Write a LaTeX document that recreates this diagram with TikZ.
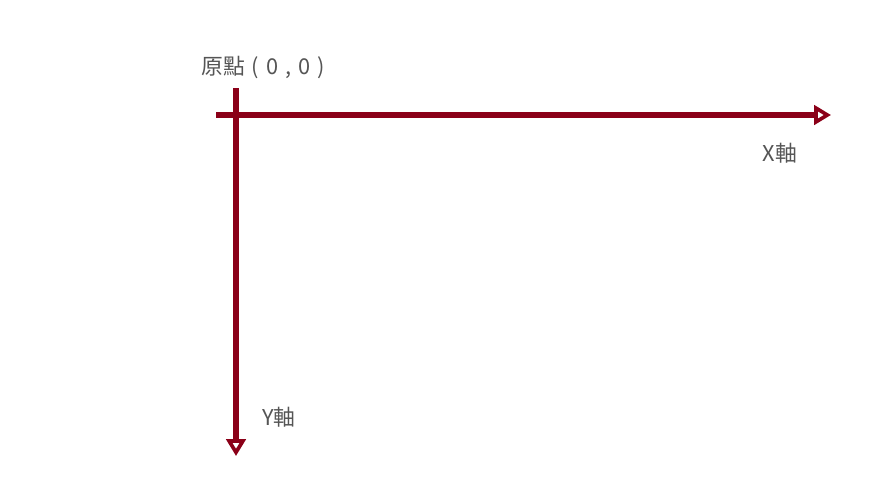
\documentclass[tikz,border=0pt]{standalone}
\usepackage{fontspec}
\setmainfont{Noto Sans CJK TC}
\usetikzlibrary{arrows.meta}
\definecolor{axisred}{RGB}{139,0,24}
\definecolor{labelgray}{RGB}{85,85,85}
\newcommand{\gap}{\hspace{0.32em}}
\tikzset{
  axis/.style={axisred,line width=3.6pt,
    -{Triangle[open,length=0.42cm,width=0.48cm,line width=2.6pt]}},
  axislabel/.style={text=labelgray,font=\fontsize{15.5}{17}\selectfont,inner sep=0pt}
}

\begin{document}
\begin{tikzpicture}[x=0.025cm,y=-0.025cm]
  \useasboundingbox (0,0) rectangle (880,495);
  % axes
  \coordinate (xstart) at (216,115);
  \coordinate (xend) at (831,115);
  \coordinate (ystart) at (236,88);
  \coordinate (yend) at (236,456);
  \draw[axis] (xstart) -- (xend);
  \draw[axis] (ystart) -- (yend);
  % labels
  \node[axislabel] (origin) at (263,67) {原點\gap(\gap0\gap,\gap0\gap)};
  \node[axislabel] (xlabel) at (780,153) {X軸};
  \node[axislabel] (ylabel) at (279,417) {Y軸};
\end{tikzpicture}
\end{document}
